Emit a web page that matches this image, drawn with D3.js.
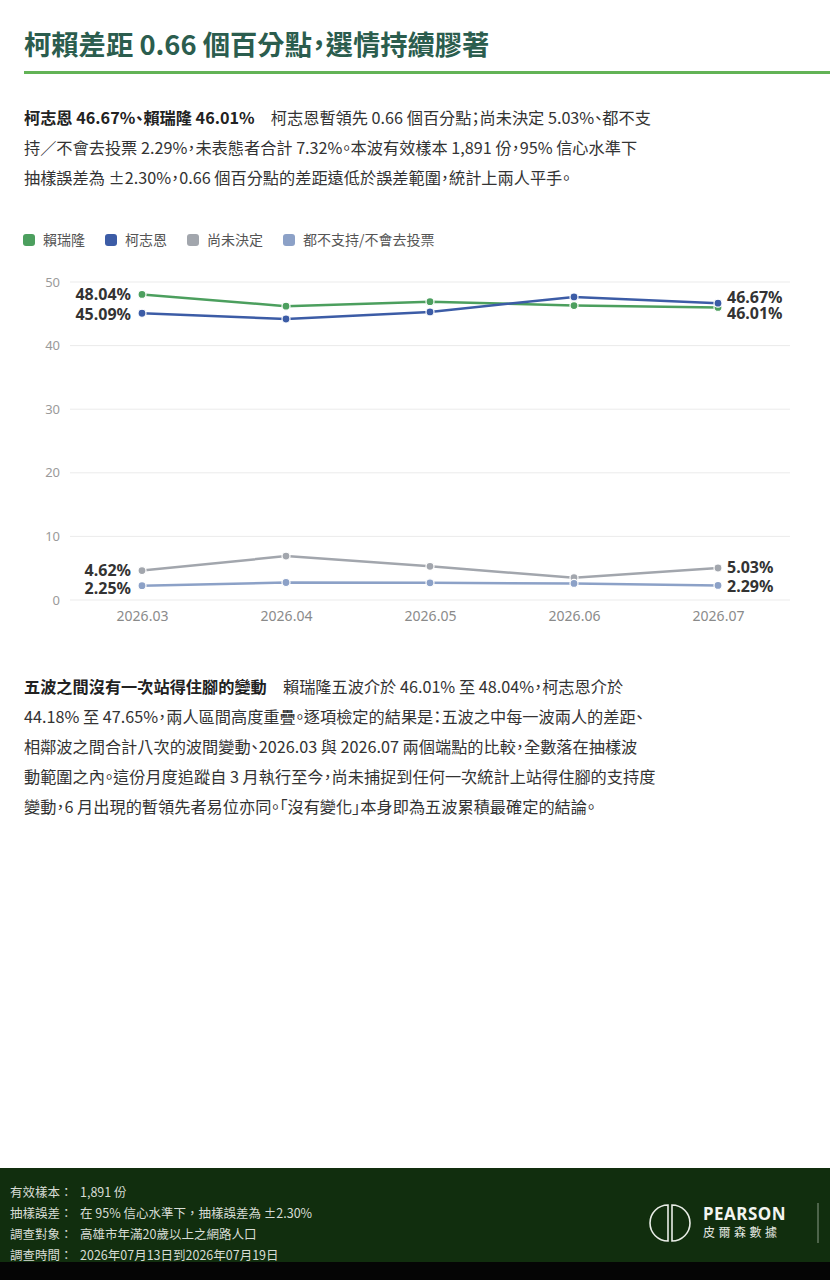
<!DOCTYPE html>
<html>
<head>
<meta charset="utf-8">
<script src="https://cdn.jsdelivr.net/npm/d3@7"></script>
<style>
  html, body { margin: 0; padding: 0; background: #fff; }
  svg { display: block; font-family: "Noto Sans CJK TC", "Noto Sans", sans-serif; }
  .cjk { font-feature-settings: "palt"; }
</style>
</head>
<body>
<div id="chart"></div>
<script>
// data
var waves = ["2026.03", "2026.04", "2026.05", "2026.06", "2026.07"];
var seriesNames = ["賴瑞隆", "柯志恩", "尚未決定", "都不支持/不會去投票"];
var laiValues = [48.04, 46.2, 46.9, 46.3, 46.01];
var koValues = [45.09, 44.18, 45.3, 47.65, 46.67];
var undecidedValues = [4.62, 6.9, 5.3, 3.5, 5.03];
var noneValues = [2.25, 2.75, 2.7, 2.6, 2.29];
var yTicks = [0, 10, 20, 30, 40, 50];
var colors = ["#4c9f5e", "#3c5ca6", "#a2a6ad", "#8ca1c7"];

var titleText = "柯賴差距 0.66 個百分點，選情持續膠著";
var intro = [
  [["柯志恩 46.67%、賴瑞隆 46.01%", true], ["　柯志恩暫領先 0.66 個百分點；尚未決定 5.03%、都不支", false]],
  [["持／不會去投票 2.29%，未表態者合計 7.32%。本波有效樣本 1,891 份，95% 信心水準下", false]],
  [["抽樣誤差為 ±2.30%，0.66 個百分點的差距遠低於誤差範圍，統計上兩人平手。", false]]
];
var outro = [
  [["五波之間沒有一次站得住腳的變動", true], ["　賴瑞隆五波介於 46.01% 至 48.04%，柯志恩介於", false]],
  [["44.18% 至 47.65%，兩人區間高度重疊。逐項檢定的結果是：五波之中每一波兩人的差距、", false]],
  [["相鄰波之間合計八次的波間變動、2026.03 與 2026.07 兩個端點的比較，全數落在抽樣波", false]],
  [["動範圍之內。這份月度追蹤自 3 月執行至今，尚未捕捉到任何一次統計上站得住腳的支持度", false]],
  [["變動，6 月出現的暫領先者易位亦同。「沒有變化」本身即為五波累積最確定的結論。", false]]
];
var footLabels = ["有效樣本：", "抽樣誤差：", "調查對象：", "調查時間："];
var footValues = ["1,891 份", "在 95% 信心水準下，抽樣誤差為 ±2.30%", "高雄市年滿20歲以上之網路人口", "2026年07月13日到2026年07月19日"];

var W = 830, H = 1280;
var svg = d3.select("#chart").append("svg").attr("width", W).attr("height", H);

// title
svg.append("text").attr("class", "cjk").attr("x", 24).attr("y", 55)
  .attr("font-size", 27.3).attr("font-weight", 700).attr("fill", "#2b5d4e")
  .text(titleText);
svg.append("rect").attr("x", 24).attr("y", 71).attr("width", W - 24).attr("height", 3).attr("fill", "#62b356");

function paragraph(lines, y0) {
  lines.forEach(function(parts, i) {
    var t = svg.append("text").attr("class", "cjk").attr("x", 24).attr("y", y0 + i * 30)
      .attr("font-size", 16.2).attr("fill", "#333");
    parts.forEach(function(p) {
      t.append("tspan").attr("font-weight", p[1] ? 700 : 400)
        .attr("fill", p[1] ? "#222" : "#333").text(p[0]);
    });
  });
}
paragraph(intro, 124);
paragraph(outro, 693);

// legend
var legend = svg.append("g").attr("transform", "translate(23,240)");
var lx = 0;
seriesNames.forEach(function(name, i) {
  var g = legend.append("g").attr("transform", "translate(" + lx + ",0)");
  g.append("rect").attr("x", 0).attr("y", -6).attr("width", 12).attr("height", 12).attr("rx", 3).attr("fill", colors[i]);
  var tx = g.append("text").attr("x", 20).attr("y", 5).attr("font-size", 14).attr("fill", "#555").text(name);
  lx += 20 + tx.node().getComputedTextLength() + 20;
});

// chart
var plotLeft = 70, plotRight = 790, plotTop = 282, plotBottom = 600;
var x = d3.scalePoint().domain(waves).range([plotLeft, plotRight]).padding(0.5);
var y = d3.scaleLinear().domain([0, 50]).range([plotBottom, plotTop]);

var grid = svg.append("g");
grid.selectAll("line").data(yTicks).join("line")
  .attr("x1", plotLeft).attr("x2", plotRight)
  .attr("y1", function(d) { return y(d); }).attr("y2", function(d) { return y(d); })
  .attr("stroke", "#ebebeb").attr("stroke-width", 1);

var yAxis = svg.append("g").attr("transform", "translate(" + (plotLeft - 10) + ",0)")
  .call(d3.axisLeft(y).tickValues(yTicks).tickSize(0).tickPadding(0));
yAxis.select(".domain").remove();
yAxis.selectAll("text").attr("font-size", 13).attr("fill", "#9a9a9a").attr("font-family", "Noto Sans, sans-serif");

var xAxis = svg.append("g").attr("transform", "translate(0," + (plotBottom + 10) + ")")
  .call(d3.axisBottom(x).tickSize(0).tickPadding(1));
xAxis.select(".domain").remove();
xAxis.selectAll("text").attr("font-size", 14).attr("fill", "#8a8a8a").attr("font-family", "Noto Sans, sans-serif");

var allSeries = [laiValues, koValues, undecidedValues, noneValues];
var line = d3.line().x(function(d, i) { return x(waves[i]); }).y(function(d) { return y(d); });

// draw order: blue sits over green, light blue over gray
[2, 3, 0, 1].forEach(function(si) {
  var vals = allSeries[si];
  svg.append("path").datum(vals).attr("d", line)
    .attr("fill", "none").attr("stroke", colors[si]).attr("stroke-width", 2.5);
  svg.append("g").selectAll("circle").data(vals).join("circle")
    .attr("cx", function(d, i) { return x(waves[i]); })
    .attr("cy", function(d) { return y(d); })
    .attr("r", 4).attr("fill", colors[si]).attr("stroke", "#fff").attr("stroke-width", 1.2);
});

// end labels
function endLabel(si, idx, dy, anchor, dx) {
  var v = allSeries[si][idx];
  svg.append("text")
    .attr("x", x(waves[idx]) + dx).attr("y", y(v) + dy)
    .attr("text-anchor", anchor).attr("font-size", 16).attr("font-weight", 700)
    .attr("font-family", "Noto Sans, sans-serif").attr("fill", "#333")
    .text(v.toFixed(2) + "%");
}
endLabel(0, 0, 6, "end", -11);
endLabel(1, 0, 7, "end", -11);
endLabel(2, 0, 5, "end", -11);
endLabel(3, 0, 8, "end", -11);
endLabel(1, 4, 0, "start", 9);
endLabel(0, 4, 12, "start", 9);
endLabel(2, 4, 5, "start", 9);
endLabel(3, 4, 7, "start", 9);

// footer
svg.append("rect").attr("x", 0).attr("y", 1168).attr("width", W).attr("height", 94).attr("fill", "#112e0e");
svg.append("rect").attr("x", 0).attr("y", 1262).attr("width", W).attr("height", 18).attr("fill", "#050505");
footLabels.forEach(function(l, i) {
  svg.append("text").attr("x", 10).attr("y", 1197 + i * 21).attr("font-size", 12.5).attr("fill", "#d8ddd6").text(l);
  svg.append("text").attr("x", 80).attr("y", 1197 + i * 21).attr("font-size", 12.5).attr("fill", "#d8ddd6").text(footValues[i]);
});

// logo
var logo = svg.append("g").attr("transform", "translate(670,1223)").attr("fill", "none").attr("stroke", "#e8ece6").attr("stroke-width", 1.6);
logo.append("path").attr("d", "M -2 -18 A 18 18 0 0 0 -2 18 Z");
logo.append("path").attr("d", "M 2 -18 A 18 18 0 0 1 2 18 Z");
svg.append("text").attr("x", 703).attr("y", 1220).attr("font-size", 17).attr("font-weight", 700)
  .attr("font-family", "Noto Sans, sans-serif").attr("fill", "#f2f4f0").attr("letter-spacing", 0.5).text("PEARSON");
svg.append("text").attr("x", 703).attr("y", 1237).attr("font-size", 12).attr("fill", "#e4e8e2").attr("letter-spacing", 3.5).text("皮爾森數據");
svg.append("line").attr("x1", 818).attr("x2", 818).attr("y1", 1203).attr("y2", 1243).attr("stroke", "#8a9a86").attr("stroke-width", 1);
</script>
</body>
</html>
